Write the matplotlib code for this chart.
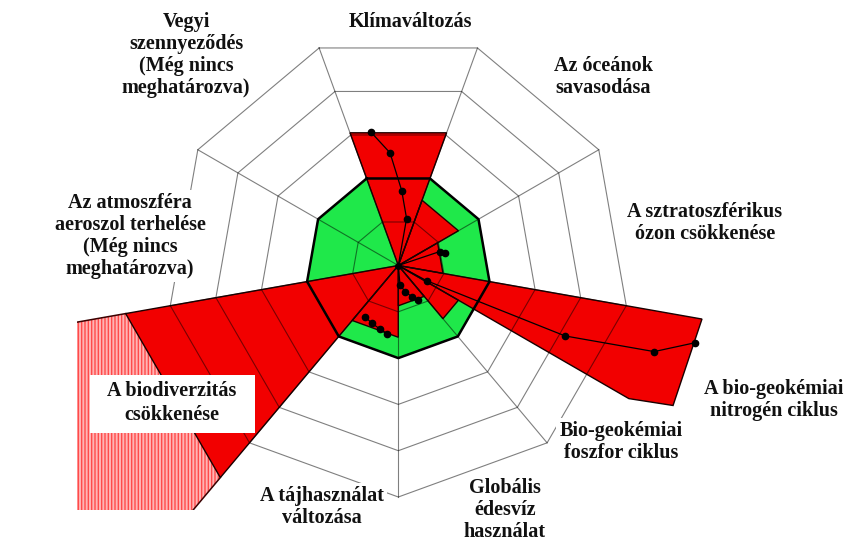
import numpy as np
import matplotlib

matplotlib.use("Agg")
import matplotlib.pyplot as plt
from matplotlib.patches import Polygon, Rectangle

# --- data (radii in grid-ring units, angles in degrees, 0 = right, ccw) ---
ring_levels = [1, 2, 3, 4, 5]
safe_level = 2
spoke_deg = [110, 70, 30, -10, -50, -90, -130, -170, 150]

wedge_names = ["klima", "ocean", "ozon", "nitrogen", "foszfor", "edesviz", "taj", "biodiv"]
wedge_from = [110, 70, 30, -10, -30, -50, -90, -130]
wedge_to = [70, 30, -10, -27, -50, -90, -130, -170]
wedge_r = [3.05, 1.5, 0.98, 6.66, 1.5, 0.87, 1.55, 5.98]
# nitrogen wedge has a clipped lower corner
nitrogen_extra_deg = -30
nitrogen_extra_r = 5.75

# biodiversity continues beyond the frame (hatched part)
biodiv_outer_r = 14

# trajectories (points with r == 0 start at the centre, no marker)
traj_klima_deg = [80.0, 80.0, 87.4, 94.2, 101.7]
traj_klima_r = [0.0, 1.03, 1.62, 2.44, 2.95]
traj_ozon_deg = [18.6, 18.6, 14.6]
traj_ozon_r = [0.0, 0.94, 1.04]
traj_nitrogen_deg = [-28.2, -28.2, -22.9, -18.6, -14.6]
traj_nitrogen_r = [0.0, 0.70, 3.91, 5.83, 6.62]
traj_edesviz_deg = [-88.0, -85.0, -75.6, -66.8, -59.9]
traj_edesviz_r = [0.0, 0.42, 0.58, 0.73, 0.86]
traj_taj_deg = [-123.0, -114.7, -106.0, -99.7]
traj_taj_r = [1.32, 1.37, 1.43, 1.49]

labels = [
    "Klímaváltozás",
    "Vegyi\nszennyeződés\n(Még nincs\nmeghatározva)",
    "Az óceánok\nsavasodása",
    "A sztratoszférikus\nózon csökkenése",
    "A bio-geokémiai\nnitrogén ciklus",
    "Bio-geokémiai\nfoszfor ciklus",
    "Globális\nédesvíz\nhasználat",
    "A tájhasználat\nváltozása",
    "Az atmoszféra\naeroszol terhelése\n(Még nincs\nmeghatározva)",
]
label_px = [(410, 22), (186, 55), (603, 77), (705, 223), (774, 400),
            (621, 442), (505, 510), (322, 507), (130, 236)]
biodiv_label = "A biodiverzitás\ncsökkenése"

RED = "#f20000"
GREEN = "#1fe84a"
PINK = "#ffb4b4"

W, H = 848, 544
CX, CY, UNIT = 398.3, 265.5, 46.3


def px(x, y):
    return (x - CX) / UNIT, (CY - y) / UNIT


def polar(deg, r):
    a = np.radians(np.asarray(deg, dtype=float))
    return np.asarray(r) * np.cos(a), np.asarray(r) * np.sin(a)


def nonagon(r):
    angles = spoke_deg + spoke_deg[:1]
    return polar(angles, [r] * len(angles))


fig = plt.figure(figsize=(W / 100, H / 100), dpi=100)
ax = fig.add_axes([0, 0, 1, 1])
x0, y1 = px(0, 0)
x1, y0 = px(W, H)
ax.set_xlim(x0, x1)
ax.set_ylim(y0, y1)
ax.axis("off")

# safe operating space
gx, gy = nonagon(safe_level)
ax.add_patch(Polygon(np.column_stack([gx, gy]), closed=True, facecolor=GREEN,
                     edgecolor="none", zorder=1))

# hatched continuation of biodiversity, cut by the picture frame
clip = Rectangle(px(77, 510), 30, 30, transform=ax.transData)
bx, by = polar([-170, -170, -130, -130], [wedge_r[-1], biodiv_outer_r, biodiv_outer_r, wedge_r[-1]])
hatch_patch = Polygon(np.column_stack([bx, by]), closed=True, facecolor=PINK,
                      edgecolor="#ff4a4a", hatch="|||||", linewidth=0, zorder=1.5)
ax.add_patch(hatch_patch)
hatch_patch.set_clip_path(clip)
for deg in (-170, -130):
    ex, ey = polar([deg, deg], [wedge_r[-1], biodiv_outer_r])
    ln, = ax.plot(ex, ey, color="#3a0000", lw=1.1, zorder=4)
    ln.set_clip_path(clip)

# red wedges
for name, a0, a1, r in zip(wedge_names, wedge_from, wedge_to, wedge_r):
    degs = [a0, a1]
    rs = [r, r]
    if name == "nitrogen":
        degs.append(nitrogen_extra_deg)
        rs.append(nitrogen_extra_r)
    wx, wy = polar(degs, rs)
    pts = np.vstack([[0, 0], np.column_stack([wx, wy])])
    ax.add_patch(Polygon(pts, closed=True, facecolor=RED, edgecolor="none", zorder=2))
    ax.add_patch(Polygon(pts, closed=True, facecolor="none", edgecolor="#1a0000",
                         lw=1.0, zorder=4))

# grid: rings and spokes
for lvl in ring_levels:
    rx, ry = nonagon(lvl)
    ax.plot(rx, ry, color="black", alpha=0.5, lw=0.8, zorder=3)
for deg in spoke_deg:
    sx, sy = polar([deg, deg], [0, ring_levels[-1]])
    ax.plot(sx, sy, color="black", alpha=0.5, lw=0.8, zorder=3)

# outline of the safe zone
ax.plot(gx, gy, color="black", lw=1.8, zorder=4.5)

# trajectories
for tdeg, tr in [(traj_klima_deg, traj_klima_r), (traj_ozon_deg, traj_ozon_r),
                 (traj_nitrogen_deg, traj_nitrogen_r), (traj_edesviz_deg, traj_edesviz_r),
                 (traj_taj_deg, traj_taj_r)]:
    tx, ty = polar(tdeg, tr)
    ax.plot(tx, ty, color="black", lw=0.9, zorder=5)
    on = np.asarray(tr) > 0
    ax.plot(tx[on], ty[on], "o", color="black", ms=4.5, zorder=5)
ax.plot([0], [0], "o", color="black", ms=4, zorder=5)

# labels
font = dict(family="Liberation Serif", weight="bold", size=14.5, color="#111111")
for text, (lx, ly) in zip(labels, label_px):
    ax.text(*px(lx, ly), text, ha="center", va="center", linespacing=1.15, zorder=6,
            bbox=dict(boxstyle="square,pad=0.15", facecolor="white", edgecolor="none"), **font)

bl, bt = px(90, 375)
br, bb = px(255, 433)
ax.add_patch(Rectangle((bl, bb), br - bl, bt - bb, facecolor="white", edgecolor="none", zorder=6))
ax.text(*px(172, 403), biodiv_label, ha="center", va="center", linespacing=1.2, zorder=7, **font)

fig.savefig("out.png", dpi=100)
